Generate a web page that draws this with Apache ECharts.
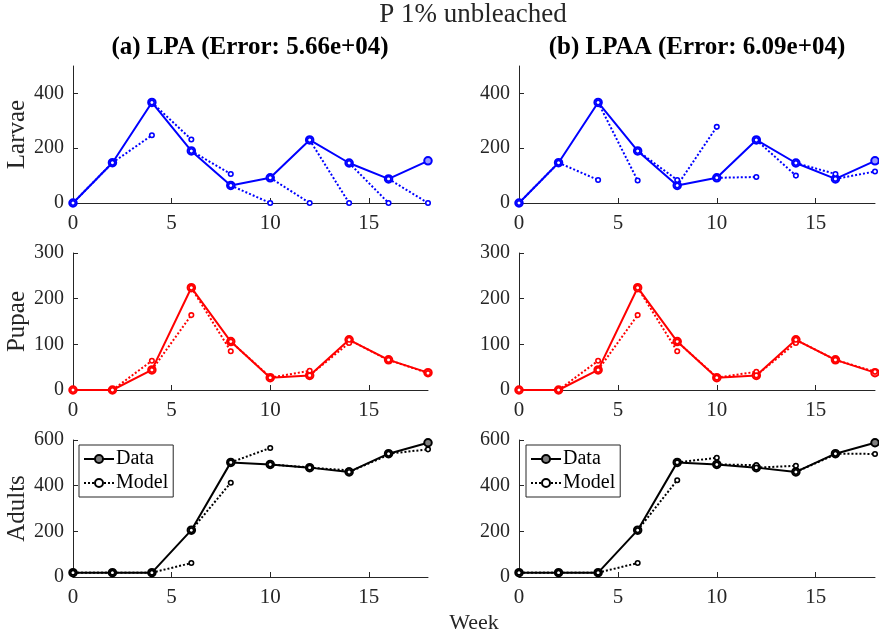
<!DOCTYPE html>
<html>
<head>
<meta charset="utf-8">
<title>P 1% unbleached</title>
<script src="https://cdn.jsdelivr.net/npm/echarts@6/dist/echarts.min.js"></script>
<style>
  html, body { margin: 0; padding: 0; background: #fff; }
  #chart { width: 879px; height: 636px; }
</style>
</head>
<body>
<div id="chart"></div>
<script>
// weeks (x) and observed counts
const weeks = [0, 2, 4, 6, 8, 10, 12, 14, 16, 18]
const larvaeData = [0, 147, 367, 190, 64, 92, 230, 146, 88, 154]
const pupaeData = [0, 0, 44, 224, 106, 27, 32, 110, 66, 38]
const adultsData = [19, 19, 19, 205, 502, 493, 479, 460, 540, 588]

// one-step model predictions (value at week[i], started from data at week[i-1])
const lpaLarvae = [null, 147, 247, 232, 106, 0, 0, 0, 0, 0]
const lpaPupae = [null, 0, 64, 164, 85, 28, 42, 103, 65, 37]
const lpaAdults = [null, 19, 19, 61, 413, 565, 480, 467, 535, 559]
const lpaaLarvae = [null, 147, 84, 82, 84, 278, 95, 100, 106, 115]
const lpaaPupae = [null, 0, 64, 164, 85, 28, 40, 103, 66, 40]
const lpaaAdults = [null, 19, 19, 61, 424, 522, 490, 487, 537, 539]

// tick labels
const xTicks = [0, 5, 10, 15]
const larvaeTicks = [0, 200, 400]
const pupaeTicks = [0, 100, 200, 300]
const adultsTicks = [0, 200, 400, 600]

const panelTitles = ['(a) LPA (Error: 5.66e+04)', '(b) LPAA (Error: 6.09e+04)']

const FONT = 'Liberation Serif'
const AX = '#262626'

const rows = [
  { name: 'Larvae', max: 500, ticks: larvaeTicks, data: larvaeData, models: [lpaLarvae, lpaaLarvae], color: '#0000ff', fill: '#9999ff' },
  { name: 'Pupae', max: 300, ticks: pupaeTicks, data: pupaeData, models: [lpaPupae, lpaaPupae], color: '#ff0000', fill: '#ff9999' },
  { name: 'Adults', max: 600, ticks: adultsTicks, data: adultsData, models: [lpaAdults, lpaaAdults], color: '#000000', fill: '#808080' },
]

const gridLeft = [73, 519]
const gridWidth = [355, 356]
const gridTop = [66, 253, 440]
const gridHeight = 137

const grid = []
const xAxis = []
const yAxis = []
const series = []

rows.forEach((row, r) => {
  for (let c = 0; c < 2; c++) {
    const idx = grid.length
    grid.push({ left: gridLeft[c], top: gridTop[r], width: gridWidth[c], height: gridHeight, outerBoundsMode: 'none' })
    xAxis.push({
      type: 'value', gridIndex: idx, min: 0, max: 18,
      axisLine: { lineStyle: { color: AX, width: 1 } },
      axisTick: { inside: true, length: 5, customValues: xTicks, lineStyle: { color: AX } },
      axisLabel: { customValues: xTicks, color: AX, fontFamily: FONT, fontSize: 21, margin: 10 },
      splitLine: { show: false },
    })
    yAxis.push({
      type: 'value', gridIndex: idx, min: 0, max: row.max,
      name: c === 0 ? row.name : '',
      nameLocation: 'middle', nameRotate: 90, nameGap: 37,
      nameTextStyle: { color: AX, fontFamily: FONT, fontSize: 25 },
      axisLine: { show: true, lineStyle: { color: AX, width: 1 } },
      axisTick: { show: true, inside: true, length: 5, customValues: row.ticks, lineStyle: { color: AX } },
      axisLabel: { customValues: row.ticks, color: AX, fontFamily: FONT, fontSize: 20, margin: 9 },
      splitLine: { show: false },
    })
    const isAdults = r === 2
    series.push({
      type: 'line', name: isAdults ? 'Data' : row.name + ' data',
      xAxisIndex: idx, yAxisIndex: idx, clip: false,
      data: weeks.map((w, i) => [w, row.data[i]]),
      symbol: 'circle', symbolSize: 7.5,
      lineStyle: { color: row.color, width: 2 },
      itemStyle: { color: row.fill, borderColor: row.color, borderWidth: 2 },
      emphasis: { disabled: true },
      z: 2,
    })
    const model = row.models[c]
    for (let i = 1; i < weeks.length; i++) {
      series.push({
        type: 'line', name: isAdults ? 'Model' : row.name + ' model',
        xAxisIndex: idx, yAxisIndex: idx, clip: false,
        data: [[weeks[i - 1], row.data[i - 1]], [weeks[i], model[i]]],
        symbol: 'circle', symbolSize: 4.5,
        lineStyle: { color: row.color, width: 2, type: [2, 2] },
        itemStyle: { color: '#ffffff', borderColor: row.color, borderWidth: 1.6 },
        emphasis: { disabled: true },
        z: 3,
      })
    }
  }
})

const legendBase = {
  orient: 'vertical', top: 445, data: ['Data', 'Model'],
  backgroundColor: '#ffffff', borderColor: AX, borderWidth: 1,
  padding: [4, 5, 4, 4], itemGap: 4, itemWidth: 30, itemHeight: 10,
  selectedMode: false,
  textStyle: { color: '#000', fontFamily: FONT, fontSize: 20, padding: [0, 0, 0, -3] },
}

const option = {
  animation: false,
  backgroundColor: '#ffffff',
  grid, xAxis, yAxis, series,
  legend: [
    Object.assign({}, legendBase, { left: 79 }),
    Object.assign({}, legendBase, { left: 526 }),
  ],
  graphic: [
    { type: 'text', x: 473, y: 15, style: { text: 'P 1% unbleached', fill: AX, font: '27px "' + FONT + '"', align: 'center', verticalAlign: 'middle' } },
    { type: 'text', x: 250, y: 48, style: { text: panelTitles[0], fill: '#000', font: 'bold 25px "' + FONT + '"', align: 'center', verticalAlign: 'middle' } },
    { type: 'text', x: 697, y: 48, style: { text: panelTitles[1], fill: '#000', font: 'bold 25px "' + FONT + '"', align: 'center', verticalAlign: 'middle' } },
    { type: 'text', x: 474, y: 623, style: { text: 'Week', fill: AX, font: '22px "' + FONT + '"', align: 'center', verticalAlign: 'middle' } },
  ],
}

const chart = echarts.init(document.getElementById('chart'))
chart.setOption(option)
</script>
</body>
</html>
